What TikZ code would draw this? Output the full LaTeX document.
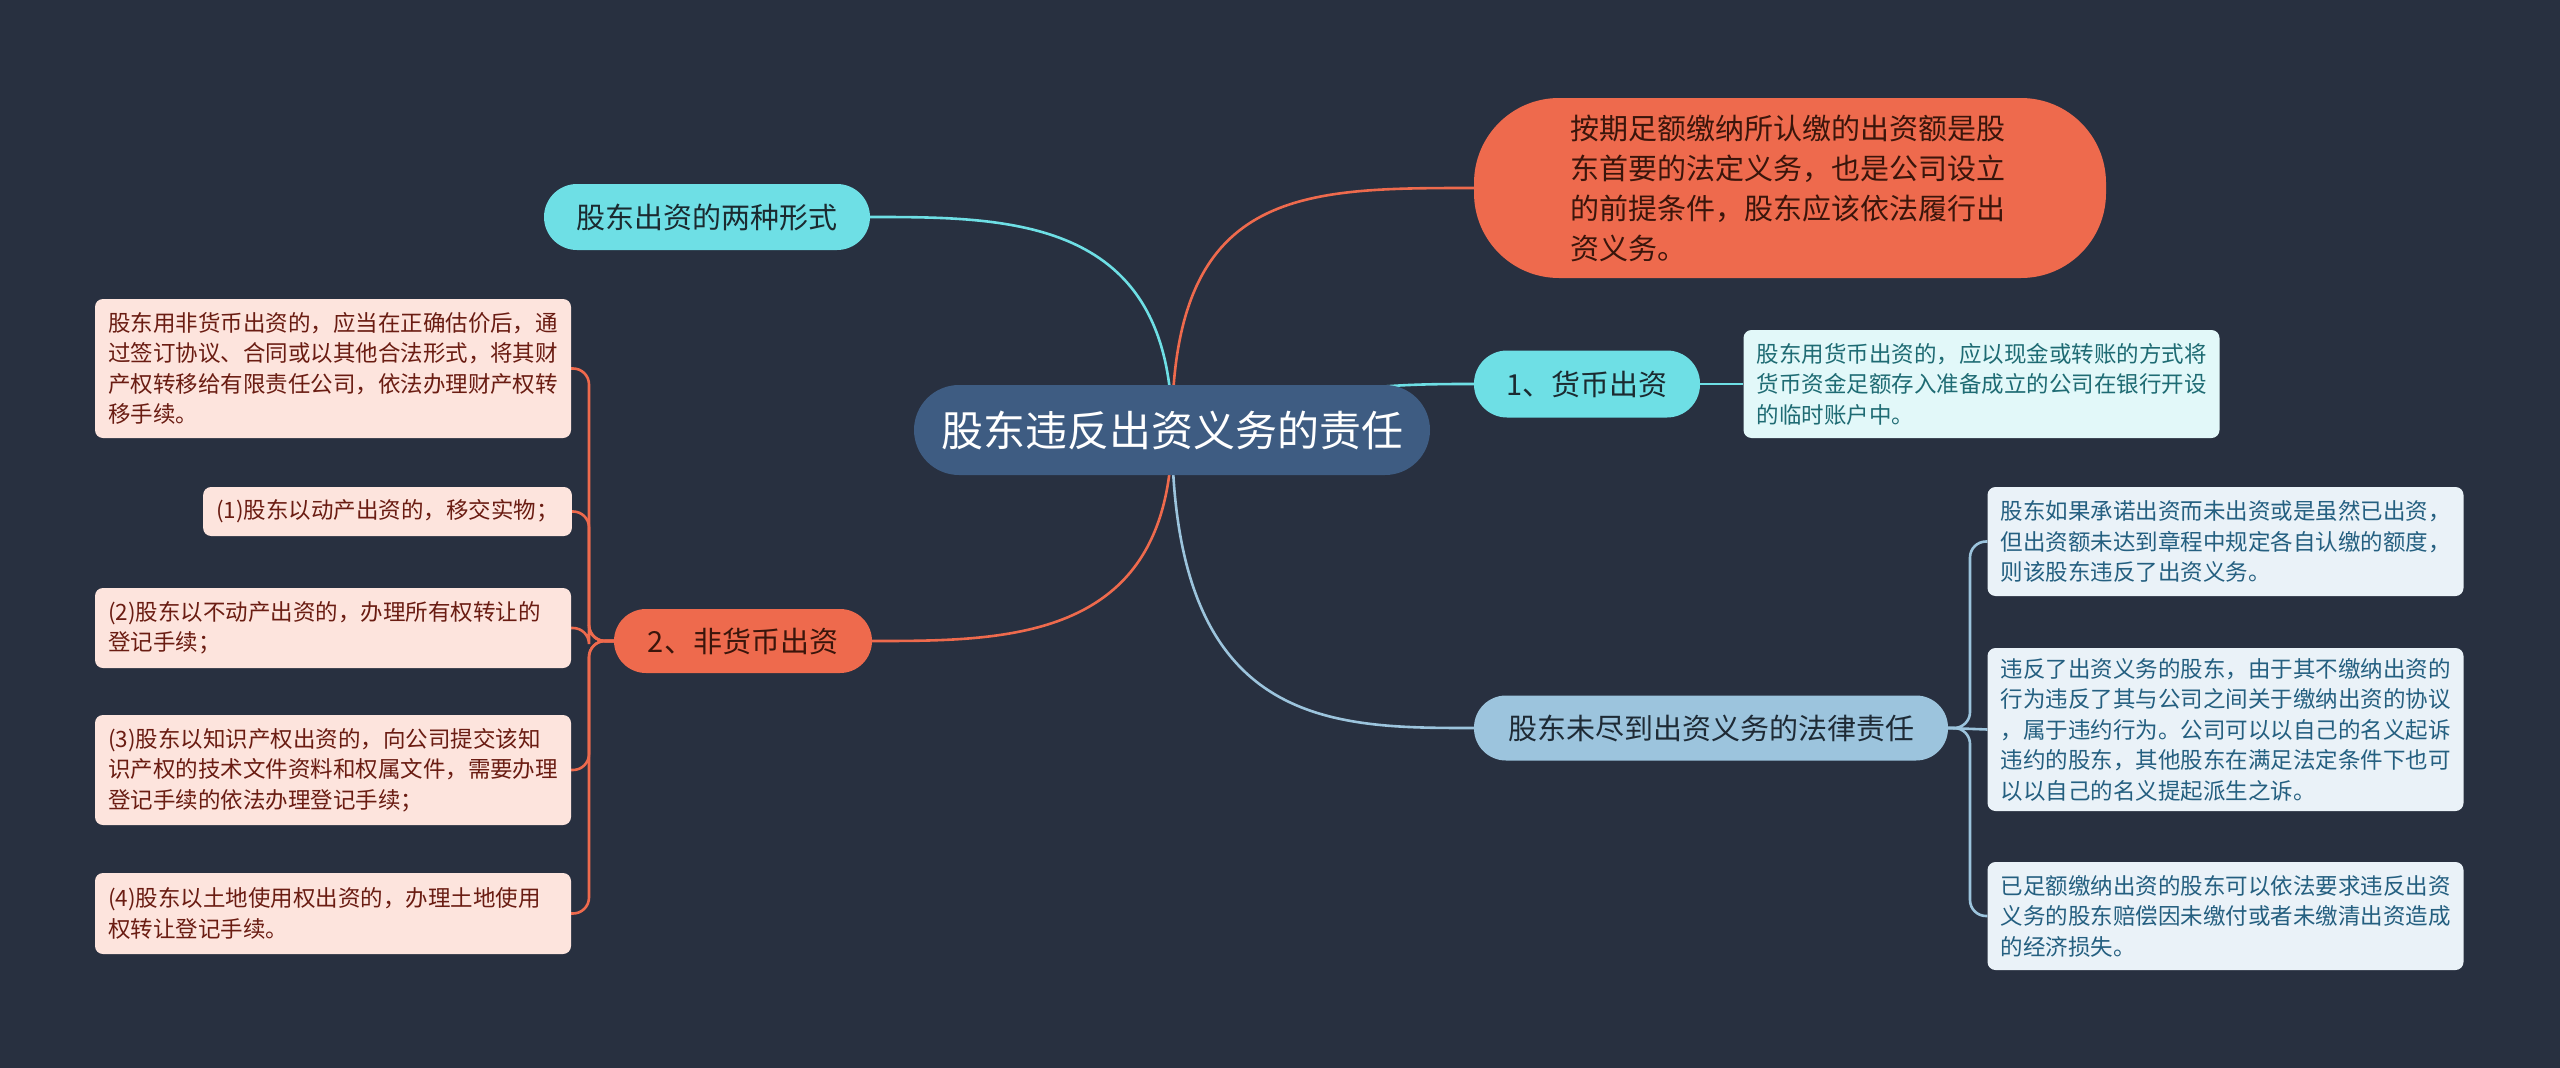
\documentclass[tikz,border=0pt]{standalone}
\usepackage{fontspec}
\newfontfamily\cjk{Noto Sans CJK SC}
\usetikzlibrary{backgrounds}
\definecolor{bgc}{HTML}{283040}
\definecolor{rootc}{HTML}{3E5C82}
\definecolor{orangec}{HTML}{EE6A4D}
\definecolor{orangetxt}{HTML}{3A150B}
\definecolor{cyanc}{HTML}{6EDFE5}
\definecolor{cyantxt}{HTML}{1B2A30}
\definecolor{bluec}{HTML}{9CC4DD}
\definecolor{bluetxt}{HTML}{1E2A35}
\definecolor{mdfill}{HTML}{E2F8F9}
\definecolor{mdtxt}{HTML}{1E6B73}
\definecolor{rdfill}{HTML}{EAF2F8}
\definecolor{rdtxt}{HTML}{245F80}
\definecolor{ldfill}{HTML}{FDE4DD}
\definecolor{ldtxt}{HTML}{6A1C12}
\begin{document}
\begin{tikzpicture}[x=1pt,y=-1pt,
  mainnode/.style={inner sep=0pt, font=\cjk\fontsize{29}{40}\selectfont},
  detail/.style={inner xsep=13pt, inner ysep=0pt, rounded corners=8pt, align=left, text width=450pt, font=\cjk\fontsize{22.5}{30.5}\selectfont},
  ldetail/.style={detail, fill=ldfill, text=ldtxt, minimum width=476pt},
  rdetail/.style={detail, fill=rdfill, text=rdtxt, minimum width=473pt},
  link/.style={line width=2.6pt},
  trunk/.style={link, rounded corners=16pt}
]
\useasboundingbox (0,0) rectangle (2560,1068);

% central topic
\node[inner sep=0pt, fill=rootc, text=white, font=\cjk\fontsize{42}{50}\selectfont,
      minimum width=516pt, minimum height=90pt, rounded corners=45pt] (root) at (1172,430) {股东违反出资义务的责任};

% main branches
\node[mainnode, fill=orangec, text=orangetxt, minimum width=632pt, minimum height=180pt,
      rounded corners=85pt, align=left, text width=440pt] (duty) at (1790,188)
  {按期足额缴纳所认缴的出资额是股\\东首要的法定义务，也是公司设立\\的前提条件，股东应该依法履行出\\资义务。};
\node[mainnode, fill=cyanc, text=cyantxt, minimum width=326pt, minimum height=66pt, rounded corners=33pt] (forms) at (707,217) {股东出资的两种形式};
\node[mainnode, fill=cyanc, text=cyantxt, minimum width=226pt, minimum height=67pt, rounded corners=33pt] (money) at (1587,384) {1、货币出资};
\node[mainnode, fill=orangec, text=orangetxt, minimum width=258pt, minimum height=64pt, rounded corners=32pt] (nonmoney) at (743,641) {2、非货币出资};
\node[mainnode, fill=bluec, text=bluetxt, minimum width=474pt, minimum height=65pt, rounded corners=32pt] (legal) at (1711,728) {股东未尽到出资义务的法律责任};

% money detail
\node[detail, fill=mdfill, text=mdtxt, minimum width=475pt, minimum height=108pt] (md) at (1981.5,384)
  {股东用货币出资的，应以现金或转账的方式将\\货币资金足额存入准备成立的公司在银行开设\\的临时账户中。};

% legal details
\node[rdetail, minimum height=109pt] (r1) at (2225.5,541.5)
  {股东如果承诺出资而未出资或是虽然已出资，\\但出资额未达到章程中规定各自认缴的额度，\\则该股东违反了出资义务。};
\node[rdetail, minimum height=163pt] (r2) at (2225.5,729.5)
  {违反了出资义务的股东，由于其不缴纳出资的\\行为违反了其与公司之间关于缴纳出资的协议\\，属于违约行为。公司可以以自己的名义起诉\\违约的股东，其他股东在满足法定条件下也可\\以以自己的名义提起派生之诉。};
\node[rdetail, minimum height=108pt] (r3) at (2225.5,916)
  {已足额缴纳出资的股东可以依法要求违反出资\\义务的股东赔偿因未缴付或者未缴清出资造成\\的经济损失。};

% non-money details
\node[ldetail, minimum height=139pt] (la) at (333,368.5)
  {股东用非货币出资的，应当在正确估价后，通\\过签订协议、合同或以其他合法形式，将其财\\产权转移给有限责任公司，依法办理财产权转\\移手续。};
\node[inner xsep=13pt, inner ysep=0pt, rounded corners=8pt, fill=ldfill, text=ldtxt,
      font=\cjk\fontsize{22.5}{30.5}\selectfont, minimum width=367pt, minimum height=49pt] (lb) at (387.5,511.5)
  {(1)股东以动产出资的，移交实物；};
\node[ldetail, minimum height=80pt] (lc) at (333,628)
  {(2)股东以不动产出资的，办理所有权转让的\\登记手续；};
\node[ldetail, minimum height=110pt] (ld) at (333,770)
  {(3)股东以知识产权出资的，向公司提交该知\\识产权的技术文件资料和权属文件，需要办理\\登记手续的依法办理登记手续；};
\node[ldetail, minimum height=81pt] (le) at (333,913.5)
  {(4)股东以土地使用权出资的，办理土地使用\\权转让登记手续。};

\begin{scope}[on background layer]
\fill[bgc] (0,0) rectangle (2560,1068);
% root connectors
\draw[link, cyanc] (root.center) .. controls (1172,217) and (1010,217) .. (forms.east);
\draw[link, orangec] (root.center) .. controls (1172,188) and (1300,188) .. (duty.west);
\draw[link, cyanc] (root.center) .. controls (1320,384) and (1400,384) .. (money.west);
\draw[link, orangec] (root.center) .. controls (1172,641) and (1010,641) .. (nonmoney.east);
\draw[link, bluec] (root.center) .. controls (1172,728) and (1330,728) .. (legal.west);
% money detail
\draw[link, cyanc] (money.east) -- (md.west);
% legal details
\draw[trunk, bluec] (legal.east) -- (1970,728) -- (1970,541.5) -- (r1.west);
\draw[link, bluec] (legal.east) -- (r2.west);
\draw[trunk, bluec] (legal.east) -- (1970,728) -- (1970,916) -- (r3.west);
% non-money details
\foreach \t in {la,lb,lc,ld,le}{
  \draw[trunk, orangec] (nonmoney.west) -- (589,641) -- (589,0 |- \t.east) -- (\t.east);
}
\end{scope}
\end{tikzpicture}
\end{document}
